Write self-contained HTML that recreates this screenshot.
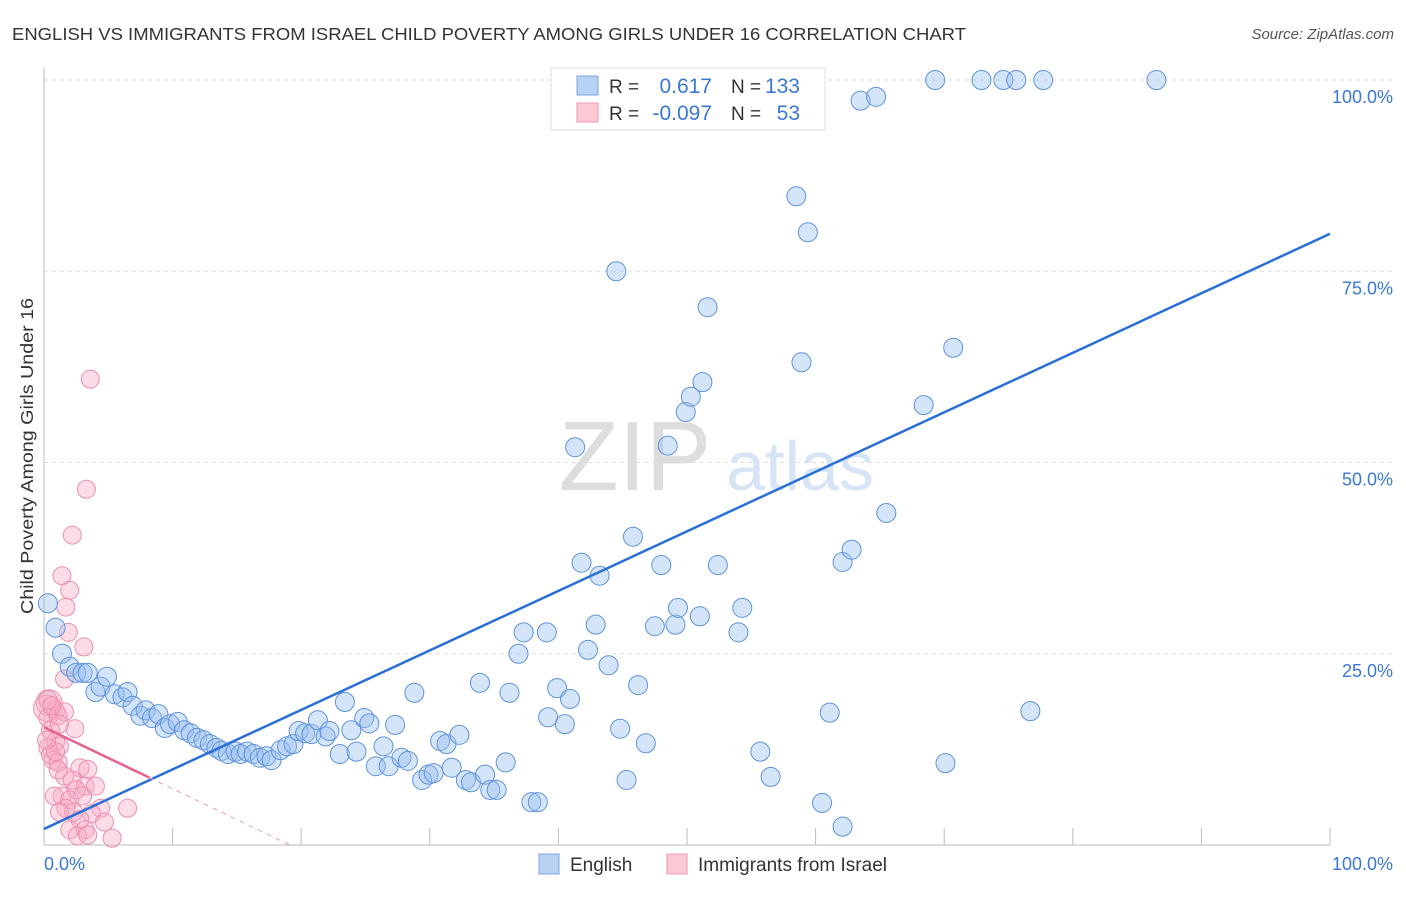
<!DOCTYPE html>
<html><head><meta charset="utf-8"><style>
body{margin:0;background:#fff;font-family:"Liberation Sans",sans-serif}
svg text{font-family:"Liberation Sans",sans-serif}
</style></head><body>
<svg id="chart" width="1406" height="892" viewBox="0 0 1406 892" xmlns="http://www.w3.org/2000/svg">
<text x="12" y="40" font-size="17.5" fill="#333" textLength="954" lengthAdjust="spacingAndGlyphs">ENGLISH VS IMMIGRANTS FROM ISRAEL CHILD POVERTY AMONG GIRLS UNDER 16 CORRELATION CHART</text>
<text x="1394" y="39" font-size="15" fill="#555" text-anchor="end" font-style="italic">Source: ZipAtlas.com</text>
<text transform="translate(33,456) rotate(-90)" font-size="17.5" fill="#333" text-anchor="middle" textLength="316" lengthAdjust="spacingAndGlyphs">Child Poverty Among Girls Under 16</text>
<g id="grid"></g>
<g>
<text x="635" y="490" font-size="98" fill="#ddd" text-anchor="middle" font-family="Liberation Serif,serif">ZIP</text>
<text x="800" y="490" font-size="70" fill="#d6e4f5" text-anchor="middle">atlas</text>
</g>
<g id="axes"></g>
<g id="pink"></g>
<g id="blue"></g>
<g id="lines"></g>
<g>
<rect x="551" y="68" width="274" height="62" fill="#fff" stroke="#ddd"/>
<rect x="577" y="76" width="21" height="19" fill="#b8d2f3" stroke="#7aa5e0"/>
<rect x="577" y="103" width="21" height="19" fill="#fbc8d6" stroke="#ee9ab4"/>
<text x="609" y="93" font-size="19" fill="#333">R =</text>
<text x="712" y="93" font-size="21" fill="#3a78d4" text-anchor="end">0.617</text>
<text x="731" y="93" font-size="19" fill="#333">N =</text>
<text x="800" y="93" font-size="21" fill="#3a78d4" text-anchor="end">133</text>
<text x="609" y="120" font-size="19" fill="#333">R =</text>
<text x="712" y="120" font-size="21" fill="#3a78d4" text-anchor="end">-0.097</text>
<text x="731" y="120" font-size="19" fill="#333">N =</text>
<text x="800" y="120" font-size="21" fill="#3a78d4" text-anchor="end">53</text>
</g>
<g>
<rect x="539" y="854" width="20" height="20" fill="#b8d2f3" stroke="#7aa5e0"/>
<text x="570" y="871" font-size="19" fill="#333">English</text>
<rect x="667" y="854" width="20" height="20" fill="#fbc8d6" stroke="#ee9ab4"/>
<text x="698" y="871" font-size="19" fill="#333">Immigrants from Israel</text>
</g>
</svg>
<script>
const yTicks=[25,50,75,100];
const yTickLabels=["25.0%","50.0%","75.0%","100.0%"];
const xTicks=[10,20,30,40,50,60,70,80,90,100];
const xLabels=["0.0%","100.0%"];
const blueX=[0.3,0.9,1.4,2.0,2.5,3.0,3.4,4.0,4.4,4.9,5.5,6.1,6.5,6.9,7.5,7.9,8.4,8.9,9.4,9.8,10.4,10.9,11.4,11.9,12.4,12.9,13.4,13.8,14.3,14.9,15.3,15.8,16.3,16.8,17.3,17.7,18.4,18.9,19.4,19.8,20.3,20.8,21.3,21.9,22.2,23.0,23.4,23.9,24.3,24.9,25.3,25.8,26.4,26.8,27.3,27.8,28.3,28.8,29.4,29.9,30.3,30.8,31.3,31.7,32.3,32.8,33.2,33.9,34.3,34.7,35.2,35.9,36.2,36.9,37.3,37.9,38.4,39.1,39.2,39.9,40.5,40.9,41.3,41.8,42.3,42.9,43.2,43.9,44.5,44.8,45.3,45.8,46.2,46.8,47.5,48.0,48.5,49.1,49.3,49.9,50.3,51.0,51.2,51.6,52.4,53.0,53.5,54.0,54.3,55.7,56.5,58.5,58.9,59.4,60.5,61.1,62.1,62.1,62.8,63.5,64.7,65.5,68.4,69.3,70.1,70.7,72.9,74.6,75.6,76.7,77.7,86.5];
const blueY=[31.6,28.4,25.0,23.3,22.5,22.5,22.5,20.0,20.7,22.0,19.7,19.3,20.0,18.2,16.9,17.6,16.6,17.1,15.3,15.8,16.1,15.0,14.6,14.0,13.7,13.2,12.7,12.3,11.9,12.2,11.9,12.2,11.9,11.4,11.6,11.1,12.4,12.9,13.2,14.9,14.6,14.5,16.3,14.2,14.9,11.9,18.7,15.0,12.2,16.6,15.9,10.3,12.9,10.3,15.7,11.4,11.0,19.9,8.5,9.2,9.4,13.6,13.2,10.1,14.4,8.5,8.2,21.2,9.2,7.2,7.2,10.8,19.9,25.0,27.8,5.6,5.6,27.8,16.7,20.5,15.8,19.1,52.0,36.9,25.5,28.8,35.2,23.5,75.0,15.2,8.5,40.3,20.9,13.3,28.6,36.6,52.2,28.8,31.0,56.6,58.6,29.9,60.5,70.3,36.6,100,100,27.8,31.0,12.2,8.9,84.8,63.1,80.1,5.5,17.3,2.4,37.0,38.6,97.3,97.8,43.4,57.5,100,10.7,65.0,100,100,100,17.5,100,100];
const pinkX=[3.6,3.3,2.2,1.4,2.0,1.7,1.9,3.1,1.6,0.4,0.2,0.9,0.3,1.1,2.4,1.6,0.5,0.9,1.2,0.3,0.5,0.7,1.1,0.9,2.8,3.4,1.6,2.2,3.2,2.5,1.4,0.8,4.0,2.0,3.0,1.7,2.3,1.2,4.4,3.7,6.5,2.8,4.7,2.0,3.2,2.6,3.4,5.3,0.3,0.6,1.2,0.2,1.1];
const pinkY=[60.9,46.5,40.5,35.2,33.3,31.1,27.8,25.9,21.7,18.6,17.9,17.6,16.6,16.9,15.2,17.4,15.0,13.5,12.9,12.7,11.8,11.1,10.8,12.2,10.1,9.9,9.0,8.5,7.7,7.2,6.4,6.4,7.7,5.9,6.4,4.8,4.3,4.3,4.8,4.1,4.8,3.3,3.0,2.0,2.0,1.2,1.3,0.9,19.0,18.2,15.8,13.7,9.8];
const blueTrend=[2.1,79.9];
const pinkTrend=[15.4,8.8];
const pinkSolidEnd=8.2;
const X=v=>44+v*12.86, Y=v=>845-v*7.65;
const NS="http://www.w3.org/2000/svg";
function mk(tag,attrs,parent){const e=document.createElementNS(NS,tag);for(const k in attrs)e.setAttribute(k,attrs[k]);parent.appendChild(e);return e;}
const grid=document.getElementById('grid');
yTicks.forEach((t,i)=>{
 const l=mk('line',{x1:44,x2:1393,y1:Y(t),y2:Y(t),stroke:'#ddd','stroke-dasharray':'4,4'},grid);
 
 
 const tx=mk('text',{x:1393,y:Y(t)+23,'font-size':18,fill:'#3a78d4','text-anchor':'end'},grid);
 tx.textContent=yTickLabels[i];
 
 
});
const axes=document.getElementById('axes');
mk('line',{x1:44,x2:44,y1:68,y2:845,stroke:'#bbb'},axes);
mk('line',{x1:44,x2:1330,y1:845,y2:845,stroke:'#bbb'},axes);
xTicks.forEach(t=>{const l=mk('line',{x1:X(t),x2:X(t),y1:828,y2:845,stroke:'#bbb'},axes);
 
 });
[[0,'start',44],[100,'end',1393]].forEach((a,i)=>{const tx=mk('text',{x:a[2],y:870,'font-size':18,fill:'#3a78d4','text-anchor':a[1]},axes);tx.textContent=xLabels[i];
 
 });
const pg=document.getElementById('pink');
pinkX.forEach((x,i)=>{const c=mk('circle',{cx:X(x),cy:Y(pinkY[i]),r:(i==9||i==10)?13:9,fill:'rgba(248,170,195,0.4)',stroke:'#ec8fae','stroke-width':1},pg);
 
 });
const bg=document.getElementById('blue');
blueX.forEach((x,i)=>{const c=mk('circle',{cx:X(x),cy:Y(blueY[i]),r:9.5,fill:'rgba(150,190,240,0.4)',stroke:'#5f93da','stroke-width':1},bg);
 
 });
const lg=document.getElementById('lines');
const bl=mk('line',{x1:X(0),y1:Y(blueTrend[0]),x2:X(100),y2:Y(blueTrend[1]),stroke:'#2a6fd6','stroke-width':2.5},lg);


const slope=(pinkTrend[1]-pinkTrend[0])/pinkSolidEnd;
const pl=mk('line',{x1:X(0),y1:Y(pinkTrend[0]),x2:X(pinkSolidEnd),y2:Y(pinkTrend[1]),stroke:'#e5628c','stroke-width':2.5},lg);


const xe=-pinkTrend[0]/slope;
const pd=mk('line',{x1:X(pinkSolidEnd),y1:Y(pinkTrend[1]),x2:X(xe),y2:Y(0),stroke:'#e5a0b6','stroke-width':1,'stroke-dasharray':'5,5'},lg);


</script>
</body></html>
